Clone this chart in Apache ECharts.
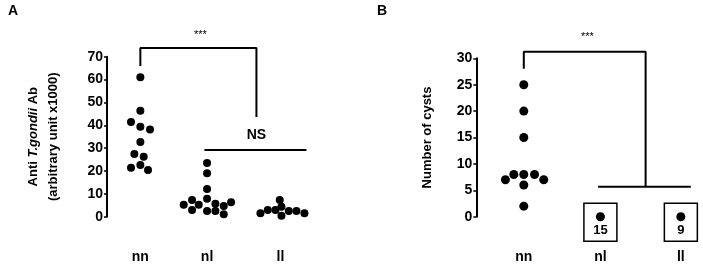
<!DOCTYPE html>
<html>
<head>
<meta charset="utf-8">
<script src="https://cdn.jsdelivr.net/npm/echarts@6/dist/echarts.min.js"></script>
<style>
  html, body { margin: 0; padding: 0; background: #fff; }
  #main { width: 703px; height: 266px; }
</style>
</head>
<body>
<div id="main"></div>
<script>
// groups and where they sit on the (hidden) x scale
var groups = ['nn', 'nl', 'll'];
var posA = [0, 1, 2.1];
var posB = [0, 1, 2.05];

// panel A: anti T.gondii Ab (x1000), value + horizontal jitter
var nnA = [61, 46.3, 41.4, 39.4, 38.1, 32.7, 27.4, 26.2, 21.4, 22.6, 20.4];
var nnAoff = [0, 0, -0.14, 0, 0.145, 0, -0.09, 0.05, -0.14, 0, 0.115];
var nlA = [23.5, 19, 12.1, 7.9, 5.2, 7.3, 5.2, 2.9, 2.5, 5.7, 2.5, 4.7, 1.1, 6.3];
var nlAoff = [0, 0, 0, 0, -0.35, -0.225, -0.125, -0.225, 0, 0.125, 0.125, 0.25, 0.25, 0.36];
var llA = [1.5, 2.9, 2.9, 7.3, 4.4, 0.4, 2.5, 2.5, 1.5];
var llAoff = [-0.3, -0.19, -0.075, -0.01, 0.015, 0.015, 0.125, 0.24, 0.36];

// panel B: number of cysts
var nnB = [25, 20, 15, 7, 8, 8, 8, 7, 6, 2];
var nnBoff = [0, 0, 0, -0.24, -0.13, 0, 0.14, 0.26, 0, 0];
var zeroCounts = [15, 9]; // nl and ll mice, all at 0

// significance brackets
var bracketA = [[0, 65.9], [0, 73.8], [1.74, 73.8], [1.74, 43.6]];
var nsLineA = [[0.96, 29.2], [2.49, 29.2]];
var bracketB = [[0, 28], [0, 31.25], [1.59, 31.25], [1.59, 5.68]];
var hLineB = [[0.97, 5.68], [2.18, 5.68]];
var textA = [[0.9, 79.5, '***', false], [1.74, 35.7, 'NS', true]];
var textB = [[0.83, 34, '***', false]];

var font = 'Arial, "Liberation Sans", Helvetica, sans-serif';

function pts(vals, offs, pos) {
    return vals.map(function (v, i) { return [pos + offs[i], v]; });
}

function catLabels(pos) {
    return function (v) {
        for (var i = 0; i < pos.length; i++) {
            if (Math.abs(v - pos[i]) < 1e-6) return groups[i];
        }
        return '';
    };
}

function yAxisBase(max, interval, grid) {
    return {
        type: 'value', gridIndex: grid, min: 0, max: max, interval: interval,
        axisLine: { show: true, onZero: false, lineStyle: { color: '#000', width: 2 } },
        axisTick: { show: true, length: 3, lineStyle: { color: '#000', width: 1.5 } },
        axisLabel: { color: '#000', fontSize: 14, fontWeight: 'bold', fontFamily: font, margin: 4 },
        splitLine: { show: false },
        nameLocation: 'middle',
        nameTextStyle: { color: '#000', fontSize: 13, fontWeight: 'bold', fontFamily: font }
    };
}

function xAxisBase(min, max, pos, grid) {
    return {
        type: 'value', gridIndex: grid, min: min, max: max, interval: 0.01,
        axisLine: { show: false, onZero: false }, axisTick: { show: false }, splitLine: { show: false },
        axisLabel: {
            color: '#000', fontSize: 14, fontWeight: 'bold', fontFamily: font,
            margin: 33, formatter: catLabels(pos)
        }
    };
}

function dots(data, size, xi) {
    return {
        type: 'scatter', xAxisIndex: xi, yAxisIndex: xi, data: data,
        symbolSize: size, clip: false, silent: true,
        itemStyle: { color: '#000', opacity: 1 }
    };
}

function line(data, xi) {
    return {
        type: 'line', xAxisIndex: xi, yAxisIndex: xi, data: data,
        symbol: 'none', clip: false, silent: true,
        lineStyle: { color: '#000', width: 2 }
    };
}

function texts(data, xi) {
    return {
        type: 'scatter', xAxisIndex: xi, yAxisIndex: xi, symbolSize: 0,
        clip: false, silent: true,
        itemStyle: { opacity: 1 },
        data: data.map(function (d) {
            return {
                value: [d[0], d[1]],
                label: {
                    show: true, position: 'inside', formatter: d[2], color: '#000',
                    fontFamily: font, fontSize: d[3] ? 14 : 11,
                    fontWeight: d[3] ? 'bold' : 'normal'
                }
            };
        })
    };
}

var yA = yAxisBase(70, 10, 0);
yA.name = '{t|Anti }{i|T.gondii}{t| Ab}\n{t|(arbitrary unit x1000)}';
yA.nameGap = 44;
yA.nameTextStyle.lineHeight = 20;
yA.nameTextStyle.rich = {
    t: { fontSize: 13, fontWeight: 'bold', fontFamily: font, color: '#000', lineHeight: 20 },
    i: { fontSize: 13, fontWeight: 'bold', fontStyle: 'italic', fontFamily: font, color: '#000', lineHeight: 20 }
};
var yB = yAxisBase(30, 5, 1);
yB.name = 'Number of cysts';
yB.nameGap = 42;

var myChart = echarts.init(document.getElementById('main'));
myChart.setOption({
    animation: false,
    backgroundColor: '#fff',
    grid: [
        { left: 107, top: 56.7, width: 206.8, height: 160 },
        { left: 476.3, top: 58.3, width: 223.7, height: 158.4 }
    ],
    xAxis: [xAxisBase(-0.5, 2.6, posA, 0), xAxisBase(-0.62, 2.3, posB, 1)],
    yAxis: [yA, yB],
    graphic: [
        { type: 'text', left: 8, top: 4, style: { text: 'A', font: 'bold 14px ' + font, fill: '#000' } },
        { type: 'text', left: 377, top: 4, style: { text: 'B', font: 'bold 14px ' + font, fill: '#000' } }
    ],
    series: [
        dots(pts(nnA, nnAoff, posA[0]), 8, 0),
        dots(pts(nlA, nlAoff, posA[1]), 8, 0),
        dots(pts(llA, llAoff, posA[2]), 8, 0),
        line(bracketA, 0),
        line(nsLineA, 0),
        texts(textA, 0),
        dots(pts(nnB, nnBoff, posB[0]), 9, 1),
        dots([[posB[1], 0], [posB[2], 0]], 9, 1),
        line(bracketB, 1),
        line(hLineB, 1),
        texts(textB, 1),
        {
            type: 'custom', xAxisIndex: 1, yAxisIndex: 1, clip: false, silent: true,
            data: [[posB[1], 0, zeroCounts[0]], [posB[2], 0, zeroCounts[1]]],
            renderItem: function (params, api) {
                var c = api.coord([api.value(0), api.value(1)]);
                return {
                    type: 'group',
                    children: [
                        {
                            type: 'rect',
                            shape: { x: c[0] - 16.5, y: c[1] - 13.5, width: 33, height: 38 },
                            style: { fill: 'none', stroke: '#000', lineWidth: 1.5 }
                        },
                        {
                            type: 'text',
                            style: {
                                x: c[0], y: c[1] + 14, text: String(api.value(2)),
                                align: 'center', verticalAlign: 'middle',
                                font: 'bold 13px ' + font, fill: '#000'
                            }
                        }
                    ]
                };
            }
        }
    ]
});
</script>
</body>
</html>
